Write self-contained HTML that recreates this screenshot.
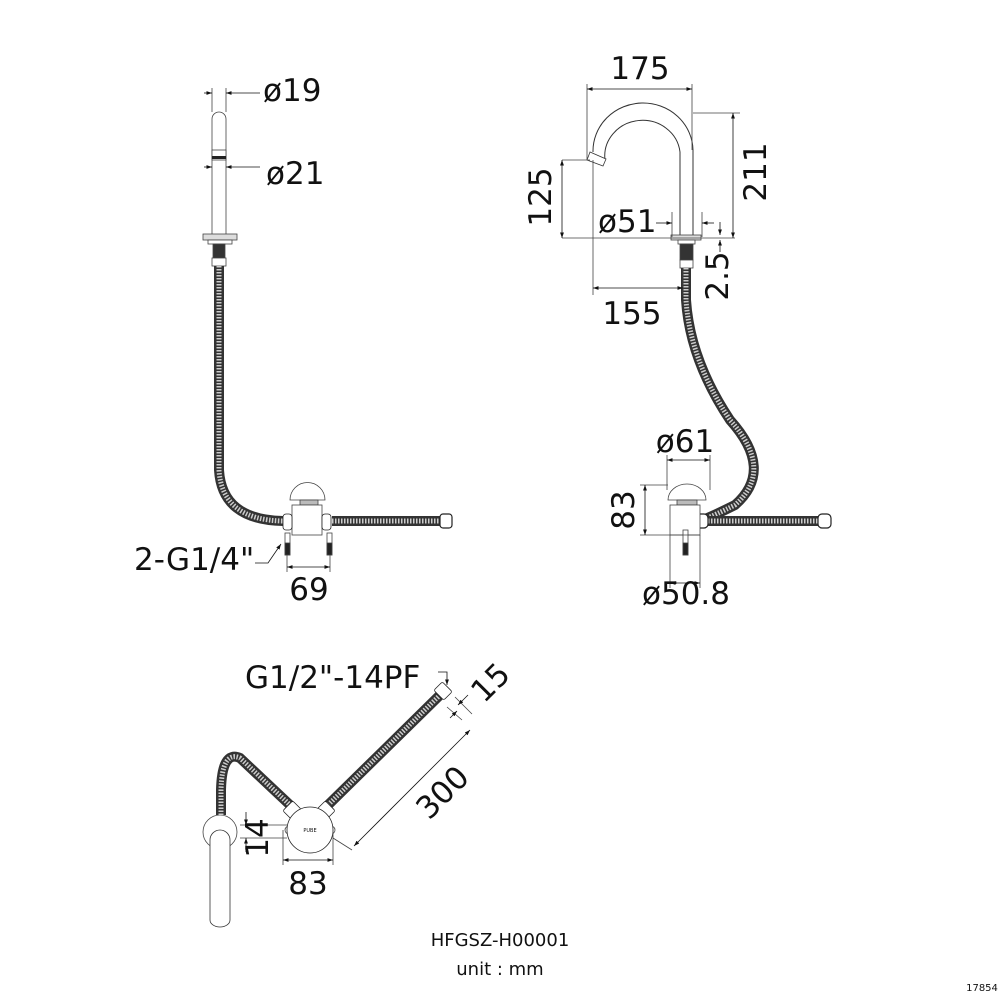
<!DOCTYPE html>
<html><head><meta charset="utf-8"><style>
html,body{margin:0;padding:0;background:#fff}
svg{display:block}
text{font-family:"DejaVu Sans","Liberation Sans",sans-serif;fill:#111}
</style></head><body>
<svg width="1001" height="1001" viewBox="0 0 1001 1001" xmlns="http://www.w3.org/2000/svg">
<defs>
<marker id="a" viewBox="0 0 10 10" refX="10" refY="5" markerWidth="7" markerHeight="7" orient="auto-start-reverse"><path d="M0,1.5 L10,5 L0,8.5z" fill="#111"/></marker>
</defs>
<g fill="none" stroke="#444" stroke-width="0.8">
<!-- LEFT VIEW -->
<path d="M212,238 V119 A7,7 0 0 1 226,119 V238"/>
<rect x="212" y="150" width="14" height="10" fill="#fff"/>
<rect x="212" y="156" width="14" height="3" fill="#222" stroke="none"/>
<rect x="203" y="234" width="34" height="6" fill="#ddd"/>
<rect x="208" y="240" width="24" height="4" fill="#fff"/>
<rect x="213" y="244" width="12" height="14" fill="#333"/>
<rect x="212" y="258" width="14" height="8" fill="#fff"/>
<!-- hose -->
<path d="M219,266 V470 Q222,520 283,521" stroke="#333" stroke-width="10"/>
<path d="M219,266 V470 Q222,520 283,521" stroke="#ccc" stroke-width="5" stroke-dasharray="1.5 1.5"/>
<path d="M332,521 H440" stroke="#333" stroke-width="10"/>
<path d="M332,521 H440" stroke="#ccc" stroke-width="5" stroke-dasharray="1.5 1.5"/>
<rect x="440" y="514" width="12" height="14" rx="3" fill="#fff" stroke="#222" stroke-width="1.2"/>
<path d="M290,500 A17,17 0 0 1 325,500 Z" fill="#fff"/>
<rect x="300" y="500" width="18" height="5" fill="#bbb"/>
<rect x="292" y="505" width="30" height="30" fill="#fff"/>
<rect x="283" y="514" width="9" height="16" rx="3" fill="#fff" stroke="#222"/>
<rect x="322" y="514" width="9" height="16" rx="3" fill="#fff" stroke="#222"/>
<rect x="285" y="533" width="5" height="22" fill="#fff"/>
<rect x="285" y="543" width="5" height="12" fill="#222"/>
<rect x="327" y="533" width="5" height="22" fill="#fff"/>
<rect x="327" y="543" width="5" height="12" fill="#222"/>
<!-- dims left -->
<path d="M212,88 V112 M226,88 V112"/>
<path d="M204,93 H212" marker-end="url(#a)" stroke="#111"/>
<path d="M260,93 H226" marker-end="url(#a)" stroke="#111"/>
<path d="M204,167 H212" marker-end="url(#a)" stroke="#111"/>
<path d="M260,167 H226" marker-end="url(#a)" stroke="#111"/>
<path d="M287,555 V572 M330,555 V572"/>
<path d="M287,567 H330" marker-start="url(#a)" marker-end="url(#a)" stroke="#111"/>
<path d="M255,563 L268,563 L281,544" marker-end="url(#a)" stroke="#111"/>

<!-- RIGHT VIEW -->
<path d="M693,237 V150 A50,48 0 0 0 593,152 M680,237 V152 A37,35 0 0 0 605,160" stroke="#333" stroke-width="1"/>
<path d="M590,152 L606,159 L603,166 L587,160 Z" fill="#fff" stroke="#333"/>
<rect x="671" y="235" width="30" height="5" fill="#ddd"/>
<rect x="678" y="240" width="17" height="4" fill="#fff"/>
<rect x="680" y="244" width="13" height="16" fill="#333"/>
<rect x="680" y="260" width="13" height="8" fill="#fff"/>
<path d="M686,268 V300 Q690,360 730,420 Q775,470 735,505 Q715,515 705,519" stroke="#333" stroke-width="10"/>
<path d="M686,268 V300 Q690,360 730,420 Q775,470 735,505 Q715,515 705,519" stroke="#ccc" stroke-width="5" stroke-dasharray="1.5 1.5"/>
<path d="M708,521 H820" stroke="#333" stroke-width="10"/>
<path d="M708,521 H820" stroke="#ccc" stroke-width="5" stroke-dasharray="1.5 1.5"/>
<rect x="695" y="514" width="13" height="14" rx="4" fill="#fff" stroke="#222" stroke-width="1.2"/>
<rect x="818" y="514" width="13" height="14" rx="4" fill="#fff" stroke="#222" stroke-width="1.2"/>
<path d="M668,500 A19,16 0 0 1 706,500 Z" fill="#fff"/>
<rect x="677" y="500" width="20" height="5" fill="#bbb"/>
<rect x="670" y="505" width="30" height="30" fill="#fff"/>
<rect x="683" y="530" width="5" height="25" fill="#fff"/>
<rect x="683" y="543" width="5" height="12" fill="#222"/>
<!-- dims right -->
<path d="M587,84 V160 M692,84 V150 M693,113 H740 M562,160 H590 M562,238 H735 M593,160 V295 M683,268 V295 M667,455 V490 M710,455 V490 M640,485 H668 M640,535 H700 M670,535 V588 M700,535 V588 M702,212 V237 M672,212 V237"/>
<path d="M587,89 H692" marker-start="url(#a)" marker-end="url(#a)" stroke="#111"/>
<path d="M733,113 V238" marker-start="url(#a)" marker-end="url(#a)" stroke="#111"/>
<path d="M562,160 V238" marker-start="url(#a)" marker-end="url(#a)" stroke="#111"/>
<path d="M656,223 H672" marker-end="url(#a)" stroke="#111"/>
<path d="M714,223 H702" marker-end="url(#a)" stroke="#111"/>
<path d="M720,222 V235" marker-end="url(#a)" stroke="#111"/>
<path d="M720,252 V240" marker-end="url(#a)" stroke="#111"/>
<path d="M593,288 H683" marker-start="url(#a)" marker-end="url(#a)" stroke="#111"/>
<path d="M667,460 H710" marker-start="url(#a)" marker-end="url(#a)" stroke="#111"/>
<path d="M645,485 V535" marker-start="url(#a)" marker-end="url(#a)" stroke="#111"/>
<path d="M670,583 H700" marker-start="url(#a)" marker-end="url(#a)" stroke="#111"/>

<!-- BOTTOM VIEW -->
<circle cx="220" cy="832" r="17" fill="#fff"/>
<path d="M210,920 V840 A10,10 0 0 1 230,840 V920 A10,7 0 0 1 210,920 Z" fill="#fff" stroke="#333"/>
<path d="M221,815 V790 Q222,750 240,758 L290,805" stroke="#333" stroke-width="10"/>
<path d="M221,815 V790 Q222,750 240,758 L290,805" stroke="#ccc" stroke-width="5" stroke-dasharray="1.5 1.5"/>
<path d="M328,805 L440,695" stroke="#333" stroke-width="10"/>
<path d="M328,805 L440,695" stroke="#ccc" stroke-width="5" stroke-dasharray="1.5 1.5"/>
<rect x="286" y="803" width="12" height="14" rx="2" transform="rotate(45 292 810)" fill="#fff" stroke="#222"/>
<rect x="320" y="803" width="12" height="14" rx="2" transform="rotate(-45 326 810)" fill="#fff" stroke="#222"/>
<rect x="437" y="684" width="12" height="14" rx="2" transform="rotate(-45 443 691)" fill="#fff" stroke="#222"/>
<circle cx="289" cy="830" r="4" fill="#fff"/><circle cx="331" cy="830" r="4" fill="#fff"/>
<circle cx="310" cy="830" r="23" fill="#fff" stroke="#222"/>
<!-- dims bottom -->
<path d="M283,830 V865 M333,830 V865 M240,825 H287 M240,838 H287 M333,838 L352,850 M455,697 L472,714 M447,707 L462,720"/>
<path d="M283,860 H333" marker-start="url(#a)" marker-end="url(#a)" stroke="#111"/>
<path d="M246,812 V825" marker-end="url(#a)" stroke="#111"/>
<path d="M246,852 V838" marker-end="url(#a)" stroke="#111"/>
<path d="M354,846 L470,730" marker-start="url(#a)" marker-end="url(#a)" stroke="#111"/>
<path d="M468,695 L458,705" marker-end="url(#a)" stroke="#111"/>
<path d="M450,718 L457,711" marker-end="url(#a)" stroke="#111"/>
<path d="M438,672 H447 V685" marker-end="url(#a)" stroke="#111"/>
</g>
<text x="310" y="832" font-size="5" text-anchor="middle">PUBE</text>
<g font-size="31">
<text x="263" y="101">ø19</text>
<text x="266" y="184">ø21</text>
<text x="134" y="570">2-G1/4"</text>
<text x="309" y="600" text-anchor="middle">69</text>
<text x="640" y="79" text-anchor="middle">175</text>
<text transform="translate(766,172) rotate(-90)" text-anchor="middle">211</text>
<text transform="translate(551,197) rotate(-90)" text-anchor="middle">125</text>
<text x="598" y="232">ø51</text>
<text transform="translate(728,276) rotate(-90)" text-anchor="middle">2.5</text>
<text x="632" y="324" text-anchor="middle">155</text>
<text x="685" y="452" text-anchor="middle">ø61</text>
<text transform="translate(634,510) rotate(-90)" text-anchor="middle">83</text>
<text x="686" y="604" text-anchor="middle">ø50.8</text>
<text x="245" y="688">G1/2"-14PF</text>
<text transform="translate(498,690) rotate(-45)" text-anchor="middle">15</text>
<text transform="translate(450,800) rotate(-45)" text-anchor="middle">300</text>
<text transform="translate(268,838) rotate(-90)" text-anchor="middle">14</text>
<text x="308" y="894" text-anchor="middle">83</text>
</g>
<text x="500" y="946" font-size="18" text-anchor="middle">HFGSZ-H00001</text>
<text x="500" y="975" font-size="18" text-anchor="middle">unit : mm</text>
<text x="982" y="991" font-size="10" text-anchor="middle">17854</text>
</svg>
</body></html>
